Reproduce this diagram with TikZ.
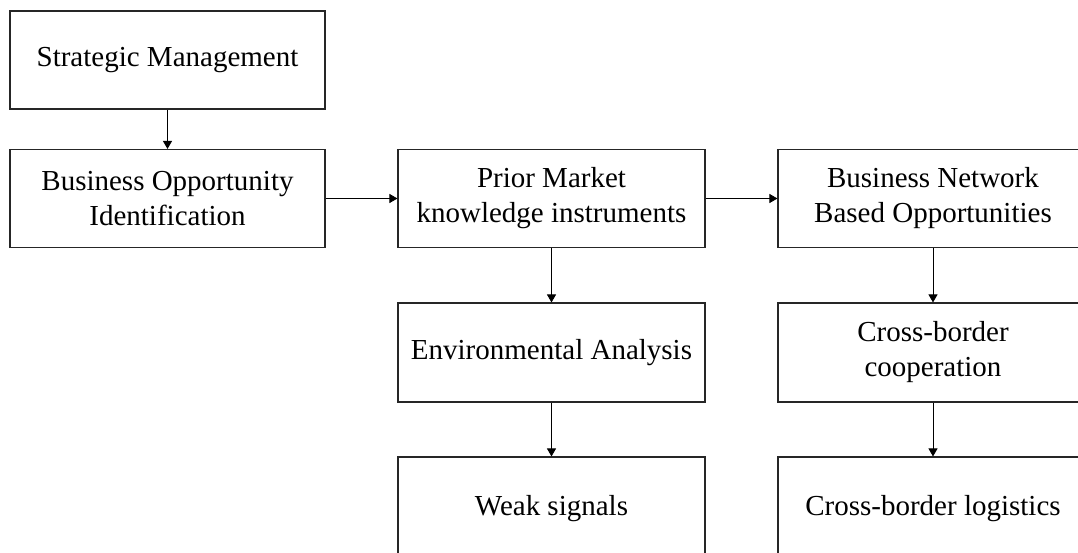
\documentclass[tikz,border=0pt]{standalone}
\usepackage{fontspec}
\setmainfont{Liberation Serif}
\usetikzlibrary{arrows.meta}
\begin{document}
\begin{tikzpicture}[x=1pt,y=-1pt,
  txt/.style={align=center, font=\fontsize{29}{35}\selectfont, inner sep=0pt},
  box/.style={txt, draw=black!85, line width=1.1pt, minimum height=98pt},
  arr/.style={draw=black, line width=0.9pt, -{Triangle[length=8pt,width=9pt]}}]
  \useasboundingbox (0,0) rectangle (1078,553);
  \clip (0,0) rectangle (1078,553);

  % left column
  \node[box, minimum width=315pt] (sm)  at (167.5,60)    {Strategic Management};
  \node[box, minimum width=315pt] (boi) at (167.5,198.5) {Business Opportunity\\Identification};

  % middle column
  \node[box, minimum width=307pt] (pm) at (551.5,198.5) {Prior Market\\knowledge instruments};
  \node[box, minimum width=307pt, minimum height=99pt] (ea) at (551.5,352.5) {Environmental Analysis};
  \node[box, minimum width=307pt, minimum height=104pt] (ws) at (551.5,509) {Weak signals};

  % right column (runs past the right edge)
  \node[box, minimum width=310pt] (bn) at (933,198.5) {Business Network\\Based Opportunities};
  \node[box, minimum width=310pt, minimum height=99pt] (cc) at (933,352.5) {Cross-border\\cooperation};
  \node[box, minimum width=310pt, minimum height=104pt] (cl) at (933,509) {Cross-border logistics};

  % connectors
  \draw[arr] (sm) -- (boi);
  \draw[arr] (boi) -- (pm);
  \draw[arr] (pm) -- (bn);
  \draw[arr] (pm) -- (ea);
  \draw[arr] (ea) -- (ws);
  \draw[arr] (bn) -- (cc);
  \draw[arr] (cc) -- (cl);
\end{tikzpicture}
\end{document}
